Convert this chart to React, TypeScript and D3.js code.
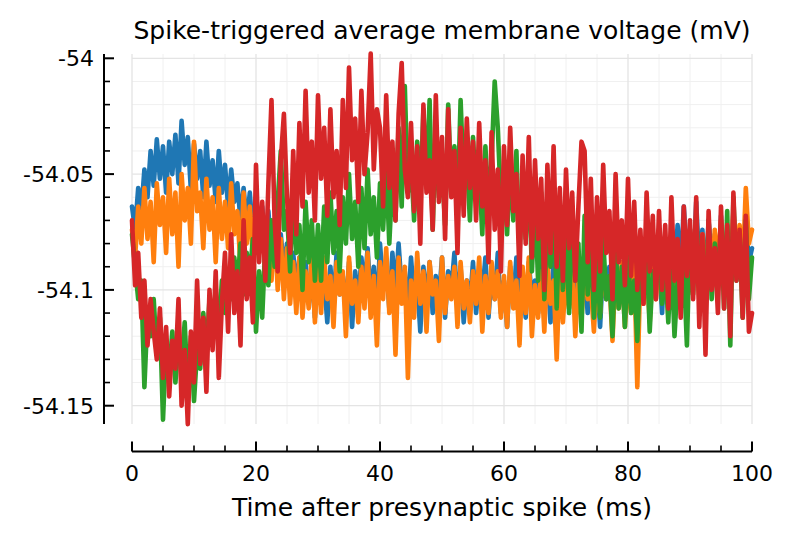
import React from "react";
import * as d3 from "d3";

// sample times (ms), 0.5 ms step
const sampleIndex = d3.range(0, 201);
const times = sampleIndex.map((i) => i * 0.5);

const seriesBlue = [
  -54.064,-54.074,-54.056,-54.066,-54.048,-54.060,-54.040,-54.055,-54.035,-54.052,
  -54.038,-54.058,-54.036,-54.050,-54.033,-54.054,-54.027,-54.046,-54.034,-54.057,
  -54.037,-54.052,-54.040,-54.060,-54.036,-54.055,-54.044,-54.062,-54.040,-54.058,
  -54.046,-54.064,-54.048,-54.062,-54.054,-54.070,-54.056,-54.072,-54.058,-54.076,
  -54.060,-54.078,-54.064,-54.082,-54.066,-54.086,-54.072,-54.090,-54.076,-54.092,
  -54.080,-54.096,-54.084,-54.100,-54.086,-54.102,
  -54.088,-54.106,-54.092,-54.112,-54.086,-54.104,-54.096,-54.114,-54.090,-54.108,
  -54.084,-54.102,-54.094,-54.110,-54.088,-54.116,-54.092,-54.106,-54.086,-54.100,
  -54.082,-54.104,-54.090,-54.112,-54.080,-54.098,-54.088,-54.108,-54.084,-54.102,
  -54.080,-54.100,-54.092,-54.110,-54.086,-54.104,-54.096,-54.118,-54.090,-54.106,
  -54.088,-54.110,-54.094,-54.104,-54.086,-54.112,-54.092,-54.100,-54.084,-54.108,
  -54.090,-54.114,-54.096,-54.106,-54.088,-54.110,-54.094,-54.102,-54.086,-54.112,
  -54.092,-54.104,-54.084,-54.110,-54.096,-54.116,-54.090,-54.106,-54.086,-54.100,
  -54.094,-54.112,-54.088,-54.104,-54.096,-54.110,-54.084,-54.106,-54.092,-54.114,
  -54.086,-54.102,-54.094,-54.108,-54.082,-54.100,-54.090,-54.112,-54.088,-54.104,
  -54.092,-54.110,-54.086,-54.100,-54.094,-54.116,-54.088,-54.104,-54.090,-54.108,
  -54.084,-54.102,-54.092,-54.112,-54.086,-54.098,-54.094,-54.106,-54.082,-54.100,
  -54.088,-54.104,-54.080,-54.096,-54.086,-54.110,-54.078,-54.100,-54.084,-54.094,
  -54.072,-54.092,-54.064,-54.086,-54.076,-54.096,-54.062,-54.090,-54.074,-54.098,
  -54.070,-54.088,-54.076,-54.100,-54.068,-54.092,-54.080,-54.096,-54.072,-54.090,
  -54.078,-54.094,-54.070,-54.088,-54.082,
];

const seriesOrange = [
  -54.074,-54.086,-54.064,-54.080,-54.056,-54.078,-54.062,-54.088,-54.054,-54.072,
  -54.060,-54.084,-54.052,-54.076,-54.058,-54.090,-54.050,-54.070,-54.056,-54.080,
  -54.036,-54.066,-54.058,-54.082,-54.052,-54.074,-54.060,-54.088,-54.056,-54.078,
  -54.062,-54.082,-54.054,-54.076,-54.066,-54.090,-54.058,-54.080,-54.064,-54.086,
  -54.060,-54.084,-54.068,-54.092,-54.072,-54.096,-54.070,-54.100,-54.078,-54.104,
  -54.082,-54.106,-54.088,-54.110,-54.086,-54.112,-54.092,-54.108,-54.084,-54.114,
  -54.090,-54.110,-54.086,-54.104,-54.094,-54.116,-54.088,-54.102,-54.092,-54.120,
  -54.086,-54.106,-54.096,-54.114,-54.090,-54.108,-54.084,-54.112,-54.094,-54.124,
  -54.088,-54.104,-54.082,-54.110,-54.092,-54.128,-54.086,-54.106,-54.090,-54.138,
  -54.096,-54.112,-54.084,-54.106,-54.092,-54.118,-54.088,-54.102,-54.096,-54.122,
  -54.086,-54.110,-54.094,-54.104,-54.090,-54.116,-54.088,-54.108,-54.096,-54.114,
  -54.092,-54.106,-54.086,-54.118,-54.094,-54.110,-54.088,-54.104,-54.092,-54.112,
  -54.094,-54.116,-54.088,-54.108,-54.096,-54.124,-54.090,-54.110,-54.086,-54.120,
  -54.098,-54.112,-54.092,-54.118,-54.088,-54.106,-54.096,-54.130,-54.090,-54.114,
  -54.094,-54.108,-54.088,-54.120,-54.096,-54.112,-54.090,-54.104,-54.098,-54.118,
  -54.092,-54.110,-54.086,-54.104,-54.096,-54.122,-54.090,-54.108,-54.088,-54.116,
  -54.094,-54.110,-54.088,-54.142,-54.092,-54.106,-54.086,-54.114,-54.090,-54.104,
  -54.084,-54.102,-54.088,-54.110,-54.080,-54.098,-54.086,-54.104,-54.082,-54.096,
  -54.078,-54.096,-54.084,-54.104,-54.076,-54.092,-54.080,-54.098,-54.074,-54.090,
  -54.070,-54.088,-54.076,-54.094,-54.066,-54.086,-54.072,-54.092,-54.056,-54.080,
  -54.074,
];

const seriesGreen = [
  -54.076,-54.090,-54.104,-54.096,-54.142,-54.110,-54.120,-54.104,-54.128,-54.112,
  -54.156,-54.124,-54.136,-54.118,-54.140,-54.122,-54.132,-54.114,-54.144,-54.120,
  -54.148,-54.126,-54.134,-54.110,-54.128,-54.104,-54.122,-54.100,-54.118,-54.096,
  -54.110,-54.092,-54.104,-54.086,-54.098,-54.080,-54.102,-54.084,-54.094,-54.078,
  -54.118,-54.092,-54.112,-54.080,-54.098,-54.070,-54.090,-54.062,-54.040,-54.074,
  -54.066,-54.092,-54.058,-54.084,-54.072,-54.100,-54.062,-54.088,-54.070,-54.096,
  -54.072,-54.096,-54.064,-54.088,-54.058,-54.084,-54.066,-54.092,-54.060,-54.080,
  -54.050,-54.078,-54.062,-54.090,-54.056,-54.082,-54.048,-54.076,-54.060,-54.086,
  -54.054,-54.074,-54.046,-54.080,-54.052,-54.070,-54.030,-54.064,-54.012,-54.058,
  -54.044,-54.070,-54.036,-54.062,-54.022,-54.056,-54.018,-54.074,-54.030,-54.060,
  -54.046,-54.072,-54.020,-54.058,-54.038,-54.066,-54.018,-54.054,-54.042,-54.070,
  -54.034,-54.060,-54.048,-54.076,-54.038,-54.064,-54.044,-54.010,-54.030,-54.062,
  -54.052,-54.076,-54.044,-54.070,-54.040,-54.084,-54.056,-54.078,-54.048,-54.092,
  -54.062,-54.096,-54.058,-54.104,-54.070,-54.090,-54.054,-54.108,-54.066,-54.100,
  -54.072,-54.110,-54.064,-54.096,-54.080,-54.118,-54.068,-54.102,-54.076,-54.112,
  -54.086,-54.112,-54.078,-54.104,-54.094,-54.120,-54.082,-54.108,-54.090,-54.116,
  -54.084,-54.110,-54.096,-54.122,-54.088,-54.104,-54.080,-54.118,-54.092,-54.100,
  -54.078,-54.106,-54.088,-54.114,-54.084,-54.120,-54.096,-54.108,-54.090,-54.124,
  -54.074,-54.102,-54.068,-54.096,-54.084,-54.110,-54.070,-54.104,-54.080,-54.098,
  -54.072,-54.108,-54.066,-54.124,-54.060,-54.096,-54.076,-54.112,-54.070,-54.104,
  -54.086,
];

const seriesRed = [
  -54.070,-54.098,-54.084,-54.112,-54.096,-54.124,-54.104,-54.118,-54.130,-54.108,
  -54.138,-54.116,-54.146,-54.122,-54.134,-54.104,-54.150,-54.126,-54.158,-54.118,
  -54.140,-54.096,-54.132,-54.112,-54.144,-54.100,-54.126,-54.092,-54.138,-54.106,
  -54.084,-54.118,-54.076,-54.110,-54.092,-54.124,-54.070,-54.104,-54.086,-54.114,
  -54.046,-54.088,-54.062,-54.096,-54.054,-54.018,-54.070,-54.092,-54.044,-54.024,
  -54.060,-54.084,-54.040,-54.076,-54.028,-54.064,-54.014,-54.058,-54.036,-54.070,
  -54.016,-54.052,-54.030,-54.068,-54.022,-54.060,-54.040,-54.072,-54.018,-54.056,
  -54.004,-54.044,-54.026,-54.062,-54.014,-54.050,-54.032,-53.998,-54.048,-54.022,
  -54.030,-54.064,-54.016,-54.056,-54.036,-54.070,-54.024,-54.002,-54.048,-54.060,
  -54.028,-54.066,-54.038,-54.080,-54.020,-54.058,-54.044,-54.074,-54.016,-54.062,
  -54.034,-54.078,-54.022,-54.060,-54.040,-54.084,-54.030,-54.068,-54.026,-54.056,
  -54.036,-54.070,-54.028,-54.064,-54.044,-54.088,-54.032,-54.074,-54.048,-54.092,
  -54.038,-54.072,-54.030,-54.066,-54.050,-54.094,-54.042,-54.080,-54.034,-54.086,
  -54.044,-54.078,-54.052,-54.100,-54.046,-54.084,-54.038,-54.090,-54.056,-54.096,
  -54.048,-54.082,-54.058,-54.096,-54.064,-54.036,-54.040,-54.088,-54.052,-54.100,
  -54.060,-54.092,-54.046,-54.084,-54.066,-54.104,-54.050,-54.088,-54.070,-54.098,
  -54.052,-54.094,-54.062,-54.100,-54.074,-54.106,-54.058,-54.092,-54.068,-54.104,
  -54.066,-54.100,-54.072,-54.108,-54.060,-54.096,-54.078,-54.112,-54.064,-54.094,
  -54.070,-54.104,-54.060,-54.116,-54.076,-54.128,-54.066,-54.100,-54.082,-54.110,
  -54.064,-54.108,-54.072,-54.120,-54.058,-54.096,-54.074,-54.112,-54.068,-54.118,
  -54.110,
];

const seriesList = [seriesBlue, seriesOrange, seriesGreen, seriesRed];
const seriesColors = ["#1f77b4", "#ff7f0e", "#2ca02c", "#d62728"];

const xTicks = [0, 20, 40, 60, 80, 100];
const xTickLabels = ["0", "20", "40", "60", "80", "100"];
const xMinorTicks = d3.range(0, 101, 5);
const yTicks = [-54, -54.05, -54.1, -54.15];
const yTickLabels = ["-54", "-54.05", "-54.1", "-54.15"];
const yMinorTicks = d3.range(0, 16).map((i) => -54 - i * 0.01);

const title = "Spike-triggered average membrane voltage (mV)";
const xLabel = "Time after presynaptic spike (ms)";

const W = 794;
const H = 540;
const FONT = "DejaVu Sans, sans-serif";

export default function App() {
  const x = d3.scaleLinear().domain([0, 100]).range([132, 752]);
  const y = d3.scaleLinear().domain([-54, -54.15]).range([58.3, 405.7]);
  const plotTop = 54;
  const plotBottom = 424;
  const ySpineX = 104;
  const xSpineY = 451.5;

  const line = d3
    .line<number>()
    .x((_, i) => x(times[i]))
    .y((v) => y(v));

  const isMajorX = (t: number) => t % 20 === 0;
  const isMajorY = (v: number) =>
    yTicks.some((tv) => Math.abs(tv - v) < 1e-9);

  return (
    <svg
      width={W}
      height={H}
      style={{ position: "absolute", left: 0, top: 0, background: "#fff" }}
      fontFamily={FONT}
    >
      <rect x={0} y={0} width={W} height={H} fill="#fff" />
      {/* minor grid */}
      {xMinorTicks.filter((t) => !isMajorX(t)).map((t) => (
        <line key={"gxm" + t} x1={x(t)} x2={x(t)} y1={plotTop} y2={plotBottom} stroke="#f0f0f0" strokeWidth={1} />
      ))}
      {yMinorTicks.filter((v) => !isMajorY(v)).map((v, i) => (
        <line key={"gym" + i} x1={x(0)} x2={x(100)} y1={y(v)} y2={y(v)} stroke="#f0f0f0" strokeWidth={1} />
      ))}
      {/* major grid */}
      {xTicks.map((t) => (
        <line key={"gx" + t} x1={x(t)} x2={x(t)} y1={plotTop} y2={plotBottom} stroke="#e4e4e4" strokeWidth={1.3} />
      ))}
      {yTicks.map((v, i) => (
        <line key={"gy" + i} x1={x(0)} x2={x(100)} y1={y(v)} y2={y(v)} stroke="#e4e4e4" strokeWidth={1.3} />
      ))}

      {/* data */}
      {seriesList.map((s, k) => (
        <path
          key={"s" + k}
          d={line(s) || ""}
          fill="none"
          stroke={seriesColors[k]}
          strokeWidth={4.6}
          strokeLinejoin="round"
          strokeLinecap="round"
        />
      ))}

      {/* y axis */}
      <line x1={ySpineX} x2={ySpineX} y1={plotTop} y2={plotBottom} stroke="#000" strokeWidth={2} />
      {yMinorTicks.filter((v) => !isMajorY(v)).map((v, i) => (
        <line key={"ytm" + i} x1={ySpineX} x2={ySpineX + 6} y1={y(v)} y2={y(v)} stroke="#000" strokeWidth={1.6} />
      ))}
      {yTicks.map((v, i) => (
        <g key={"yt" + i}>
          <line x1={ySpineX} x2={ySpineX + 10} y1={y(v)} y2={y(v)} stroke="#000" strokeWidth={2} />
          <text x={94} y={y(v)} dy="0.36em" textAnchor="end" fontSize={22} fill="#000">
            {yTickLabels[i]}
          </text>
        </g>
      ))}

      {/* x axis */}
      <line x1={x(0)} x2={x(100)} y1={xSpineY} y2={xSpineY} stroke="#000" strokeWidth={2} />
      {xMinorTicks.filter((t) => !isMajorX(t)).map((t) => (
        <line key={"xtm" + t} x1={x(t)} x2={x(t)} y1={xSpineY} y2={xSpineY - 6} stroke="#000" strokeWidth={1.6} />
      ))}
      {xTicks.map((t, i) => (
        <g key={"xt" + t}>
          <line x1={x(t)} x2={x(t)} y1={xSpineY} y2={xSpineY - 10} stroke="#000" strokeWidth={2} />
          <text x={x(t)} y={480.5} textAnchor="middle" fontSize={22} fill="#000">
            {xTickLabels[i]}
          </text>
        </g>
      ))}

      <text x={442} y={516} textAnchor="middle" fontSize={25} fill="#000">
        {xLabel}
      </text>
      <text x={442} y={38.5} textAnchor="middle" fontSize={25} fill="#000">
        {title}
      </text>
    </svg>
  );
}
